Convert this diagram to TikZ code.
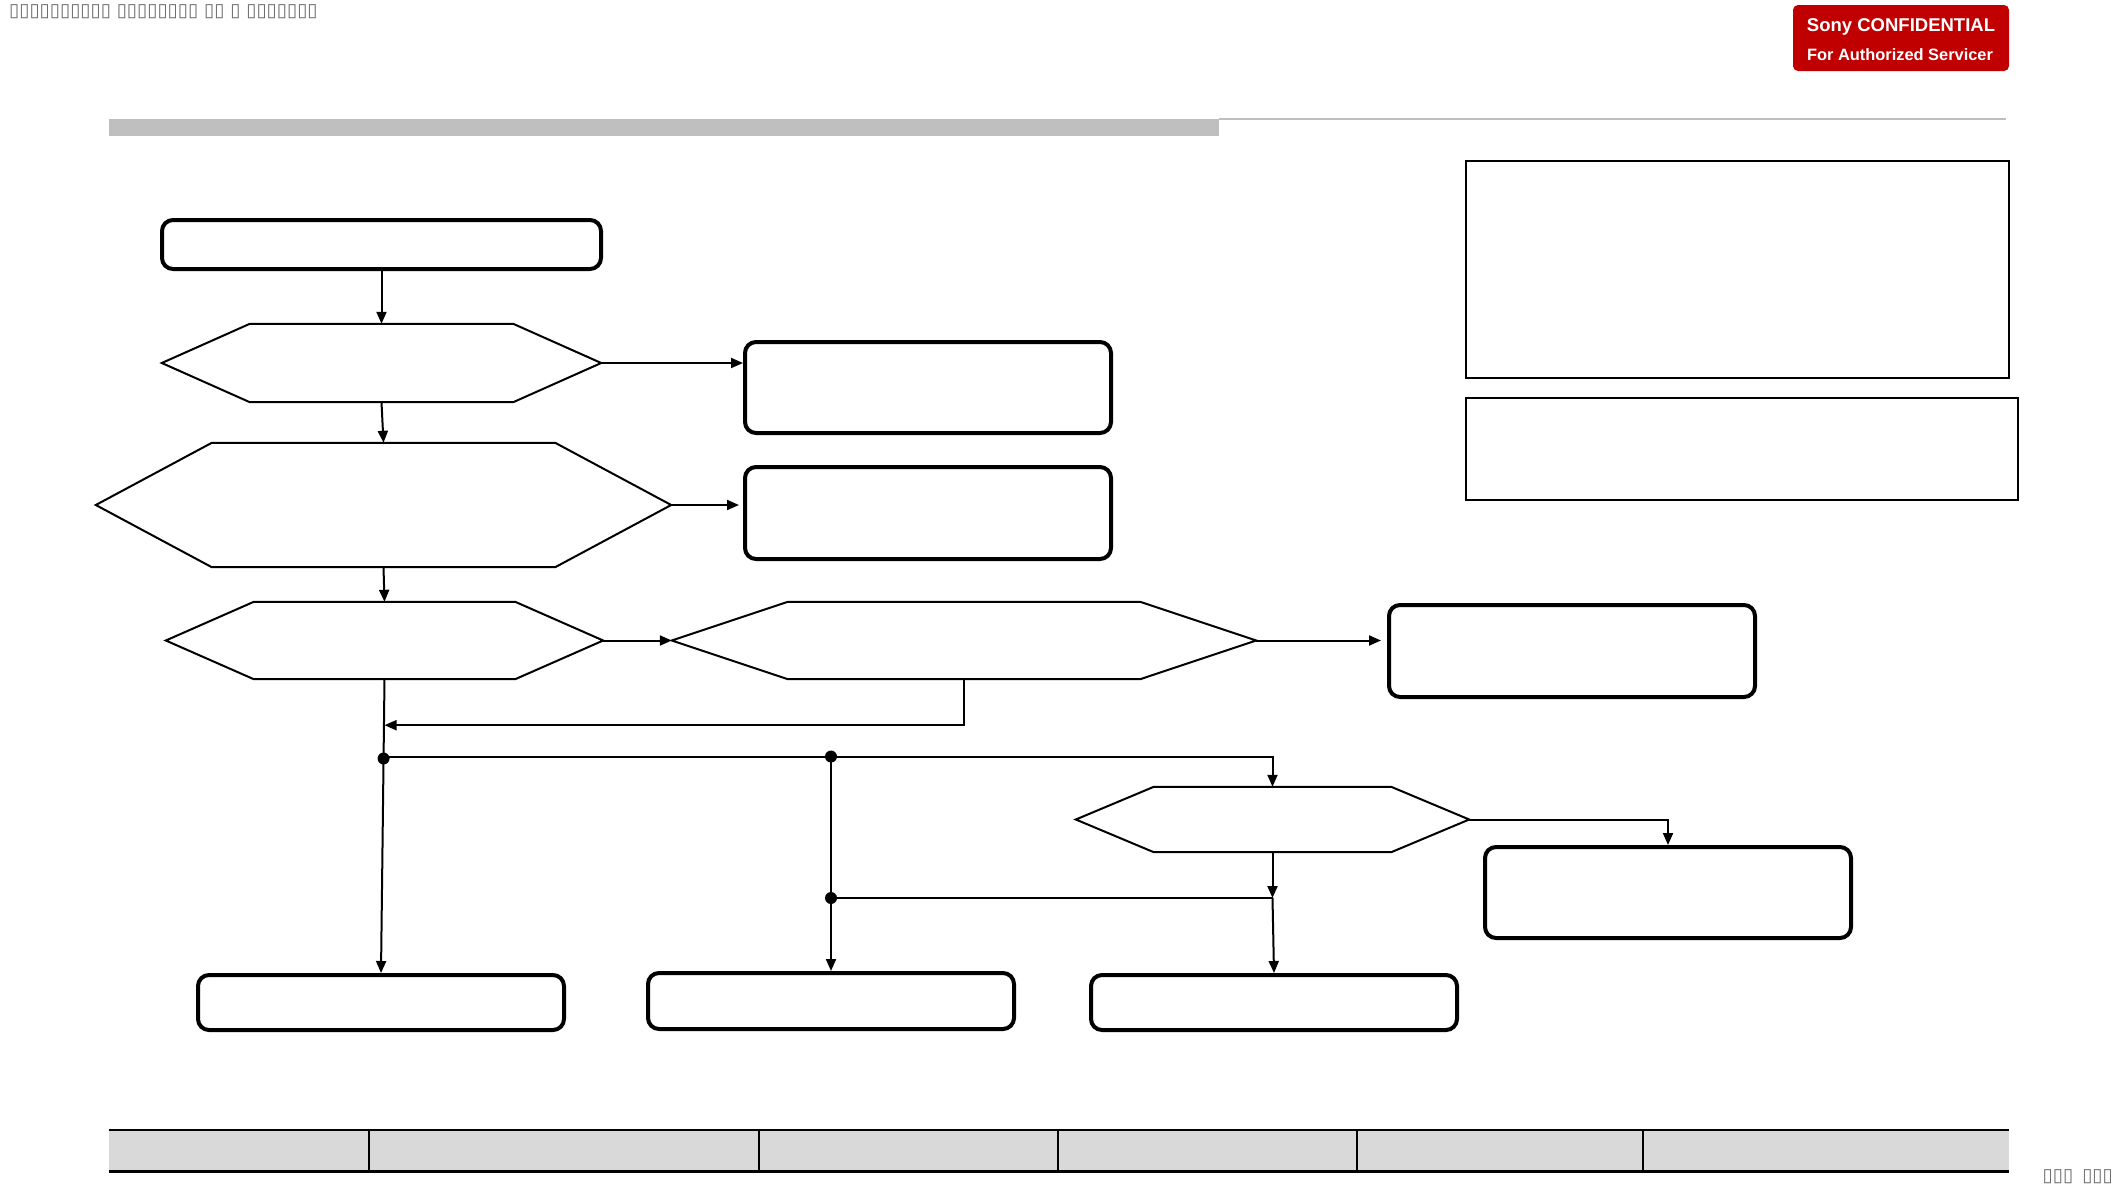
\documentclass[tikz,border=0pt]{standalone}
\usepackage{fontspec}
\setmainfont{Liberation Sans}
\newfontfamily\dejavu{DejaVu Sans}
\usetikzlibrary{arrows.meta,calc}
\definecolor{sonyred}{RGB}{192,0,0}
\definecolor{bargray}{RGB}{191,191,191}
\definecolor{tablegray}{RGB}{217,217,217}
\definecolor{tofugray}{RGB}{110,110,110}
\newcommand\drawhex[2]{\draw[hexline] (#1.west) -- ([xshift=#2]#1.north west) -- ([xshift=-#2]#1.north east) -- (#1.east) -- ([xshift=-#2]#1.south east) -- ([xshift=#2]#1.south west) -- cycle;}
\begin{document}
\begin{tikzpicture}[x=1pt,y=-1pt,
  conn/.style={line width=2pt},
  arr/.style={conn,-{Triangle[length=12pt,width=10pt]}},
  rbox/.style={draw,line width=4pt,rounded corners=11pt,inner sep=0pt,minimum width=366pt},
  hexbb/.style={inner sep=0pt,draw=none},
  hexline/.style={line width=2pt,line join=miter},
  dot/.style={circle,fill=black,inner sep=0pt,minimum size=12pt},
  pbox/.style={draw,line width=2.5pt,inner sep=0pt},
  tofu/.style={text=tofugray,font=\dejavu\fontsize{18.5}{20}\selectfont,inner sep=0pt}]

\useasboundingbox (0,0) rectangle (2117,1191);

% header
\node[tofu,anchor=west] (tofutop) at (9,12) {▯▯▯▯▯▯▯▯▯▯ ▯▯▯▯▯▯▯▯ ▯▯ ▯ ▯▯▯▯▯▯▯};
\node[fill=sonyred,rounded corners=5pt,minimum width=216pt,minimum height=66pt,inner sep=0pt] (conf) at (1901,38) {};
\node[text=white,font=\bfseries\fontsize{18.5}{20}\selectfont,inner sep=0pt] (conf1) at (1901,27) {Sony CONFIDENTIAL};
\node[text=white,font=\bfseries\fontsize{16.4}{18}\selectfont,inner sep=0pt] (conf2) at (1900,55) {For Authorized Servicer};
\fill[bargray] (109,119) rectangle (1219,136);
\draw[bargray,line width=2pt] (1219,119) -- (2006,119);

% right panels
\node[pbox,minimum width=543pt,minimum height=217pt] (r1) at (1737.5,269.5) {};
\node[pbox,minimum width=552pt,minimum height=102pt] (r2) at (1742,449) {};

% boxes
\node[rbox,minimum width=439pt,minimum height=49pt] (start) at (381.5,244.5) {};
\node[rbox,minimum height=91pt] (b1) at (928,387.5) {};
\node[rbox,minimum height=92pt] (b2) at (928,513) {};
\node[rbox,minimum height=92pt] (b3) at (1572,651) {};
\node[rbox,minimum height=91pt] (b4) at (1668,892.5) {};
\node[rbox,minimum height=55pt] (bt1) at (381,1002.5) {};
\node[rbox,minimum height=56pt] (bt2) at (831,1001) {};
\node[rbox,minimum height=55pt] (bt3) at (1274,1002.5) {};

% hexagons
\node[hexbb,minimum width=439pt,minimum height=78pt] (h1) at (381.5,363) {};
\drawhex{h1}{88pt}
\node[hexbb,minimum width=575pt,minimum height=124pt] (h2) at (383.5,505) {};
\drawhex{h2}{116pt}
\node[hexbb,minimum width=437pt,minimum height=77pt] (h3) at (384.5,640.5) {};
\drawhex{h3}{88pt}
\node[hexbb,minimum width=584pt,minimum height=77pt] (h4) at (964,640.5) {};
\drawhex{h4}{116pt}
\node[hexbb,minimum width=393pt,minimum height=65pt] (h5) at (1272.5,819.5) {};
\drawhex{h5}{78pt}

% connectors
\draw[arr] (start.south) -- (h1.north);
\draw[arr] (h1.east) -- (b1.west |- h1.east);
\draw[arr] (h1.south) -- (h2.north);
\draw[arr] (h2.east) -- ([xshift=-4pt]b2.west |- h2.east);
\draw[arr] (h2.south) -- (h3.north);
\draw[arr] (h3.east) -- (h4.west);
\draw[arr] (h4.east) -- ([xshift=-6pt]b3.west |- h4.east);
\coordinate (j0) at ([yshift=-46pt]h3.south);
\draw[arr] (h4.south) |- (j0);
\draw[arr] (h3.south) -- (bt1.north);
\node[dot] (d1) at ($(h3.south)!0.27!(bt1.north)$) {};
\draw[arr] ([yshift=2pt]d1.center) -| (h5.north);
\node[dot] (d2) at ([yshift=2pt]bt2.north |- d1) {};
\draw[arr] (d2.center) -- (bt2.north);
\node[dot] (d3) at (bt2.north |- 0,898) {};
\coordinate (j1) at (h5.south |- d3);
\draw[arr] (h5.south) -- (j1);
\draw[conn] (d3.center) -- (j1);
\draw[arr] (j1) -- (bt3.north);
\draw[arr] (h5.east) -| (b4.north);

% footer table
\fill[tablegray] (109,1130) rectangle (2009,1171);
\draw[line width=1.5pt] (109,1130) -- (2009,1130);
\draw[line width=3pt] (109,1171) -- (2009,1171);
\foreach \xx in {369,759,1058,1357,1643}
  \draw[line width=1.2pt] (\xx,1130) -- (\xx,1171);
\node[tofu,anchor=east] (tofubot) at (2113,1177) {▯▯▯\hspace{9pt}▯▯▯};
\end{tikzpicture}
\end{document}
